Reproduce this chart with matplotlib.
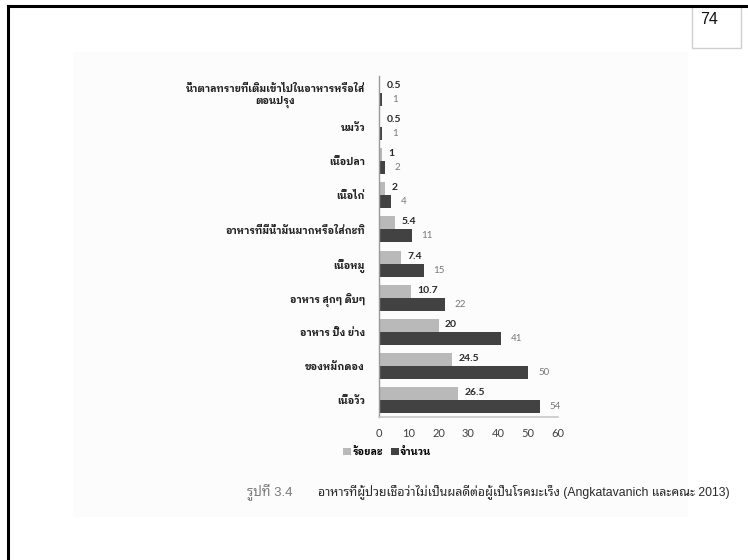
import numpy as np
import matplotlib
matplotlib.use('Agg')
import matplotlib.pyplot as plt
from matplotlib.patches import Rectangle
from matplotlib.lines import Line2D

# foods the patients believed to be bad for cancer, listed bottom -> top
foods = ['เนื้อวัว', 'ของหมักดอง', 'อาหาร ปิ้ง ย่าง', 'อาหาร สุกๆ ดิบๆ', 'เนื้อหมู',
         'อาหารที่มีน้ำมันมากหรือใส่กะทิ', 'เนื้อไก่', 'เนื้อปลา', 'นมวัว',
         'น้ำตาลทรายที่เติมเข้าไปในอาหารหรือใส่\nตอนปรุง']
percent = [26.5, 24.5, 20, 10.7, 7.4, 5.4, 2, 1, 0.5, 0.5]
count = [54, 50, 41, 22, 15, 11, 4, 2, 1, 1]
xticks = [0, 10, 20, 30, 40, 50, 60]

thai = 'IBM Plex Sans Thai Looped'
cap_font = 'Noto Sans Thai Looped'
num_font = 'Lato'
c_pct = '#b9b9b9'
c_cnt = '#424242'

W, H = 748, 560
fig = plt.figure(figsize=(W / 100, H / 100), dpi=100)

# faint scanned page area + page frame
fig.patches.append(Rectangle((73 / W, 1 - 517 / H), (688 - 73) / W, (517 - 52) / H,
                             transform=fig.transFigure, facecolor='#fcfcfc',
                             edgecolor='none', zorder=-5))
fig.lines.append(Line2D([8 / W, 1], [1 - 6 / H, 1 - 6 / H], transform=fig.transFigure,
                        color='black', lw=2.2))
fig.lines.append(Line2D([8 / W, 8 / W], [0, 1 - 6 / H], transform=fig.transFigure,
                        color='black', lw=2.2))
# page number box
fig.patches.append(Rectangle((692 / W, 1 - 48 / H), 49 / W, 42 / H,
                             transform=fig.transFigure, facecolor='white',
                             edgecolor='#cfcfcf', lw=1.0, zorder=-4))
fig.text(700 / W, 1 - 19 / H, '74', fontsize=11.5, family='Liberation Sans',
         va='center', ha='left', color='#111111')

ax = fig.add_axes([379 / W, 1 - 417 / H, (558 - 379) / W, (417 - 76) / H])
ax.set_facecolor('none')
ax.set_zorder(2)

y = np.arange(len(foods))
h = 0.38
ax.barh(y + h / 2, percent, height=h, color=c_pct, label='ร้อยละ')
ax.barh(y - h / 2, count, height=h, color=c_cnt, label='จำนวน')

for yi, p, c in zip(y, percent, count):
    ax.text(p + 2.1, yi + h / 2 + 0.03, f'{p:g}', fontsize=7.5, family=num_font,
            fontweight='bold', color='#2a2a2a', va='center', ha='left')
    ax.text(c + 3.3, yi - h / 2, f'{c}', fontsize=7, family=num_font,
            color='#777777', va='center', ha='left')

ax.set_xlim(0, 60)
ax.set_ylim(-0.5, len(foods) - 0.5)
ax.set_xticks(xticks)
ax.set_xticklabels([str(t) for t in xticks], family=num_font, fontsize=8, color='#404040')
ax.set_yticks(y)
ax.set_yticklabels(foods, family=thai, fontsize=7.2, fontweight='bold', color='#202020')
for lab in ax.get_yticklabels():
    lab.set_multialignment('center')
    lab.set_linespacing(1.2)
ax.tick_params(axis='both', length=0)
ax.tick_params(axis='y', pad=10)
ax.tick_params(axis='x', pad=8)

for s in ['top', 'right']:
    ax.spines[s].set_visible(False)
ax.spines['left'].set_color('#9a9a9a')
ax.spines['bottom'].set_color('#c8c8c8')
ax.spines['left'].set_linewidth(1.0)
ax.spines['bottom'].set_linewidth(1.2)

fig.legend(loc='center', bbox_to_anchor=(387 / W, 1 - 452 / H), ncol=2, frameon=False,
           prop={'family': thai, 'size': 7.2, 'weight': 'bold'},
           handlelength=0.8, handleheight=0.8, handletextpad=0.1, columnspacing=0.8)

# caption
fig.text(247 / W, 1 - 492 / H, 'รูปที่ 3.4', fontsize=9.5,
         family=['Liberation Sans', cap_font], color='#7a7a7a', va='center', ha='left')
fig.text(318 / W, 1 - 492 / H,
         'อาหารที่ผู้ป่วยเชื่อว่าไม่เป็นผลดีต่อผู้เป็นโรคมะเร็ง (Angkatavanich และคณะ 2013)',
         fontsize=8.85, family=['Liberation Sans', cap_font], color='#2a2a2a',
         va='center', ha='left')

fig.savefig('out.png', dpi=100, facecolor='white')
